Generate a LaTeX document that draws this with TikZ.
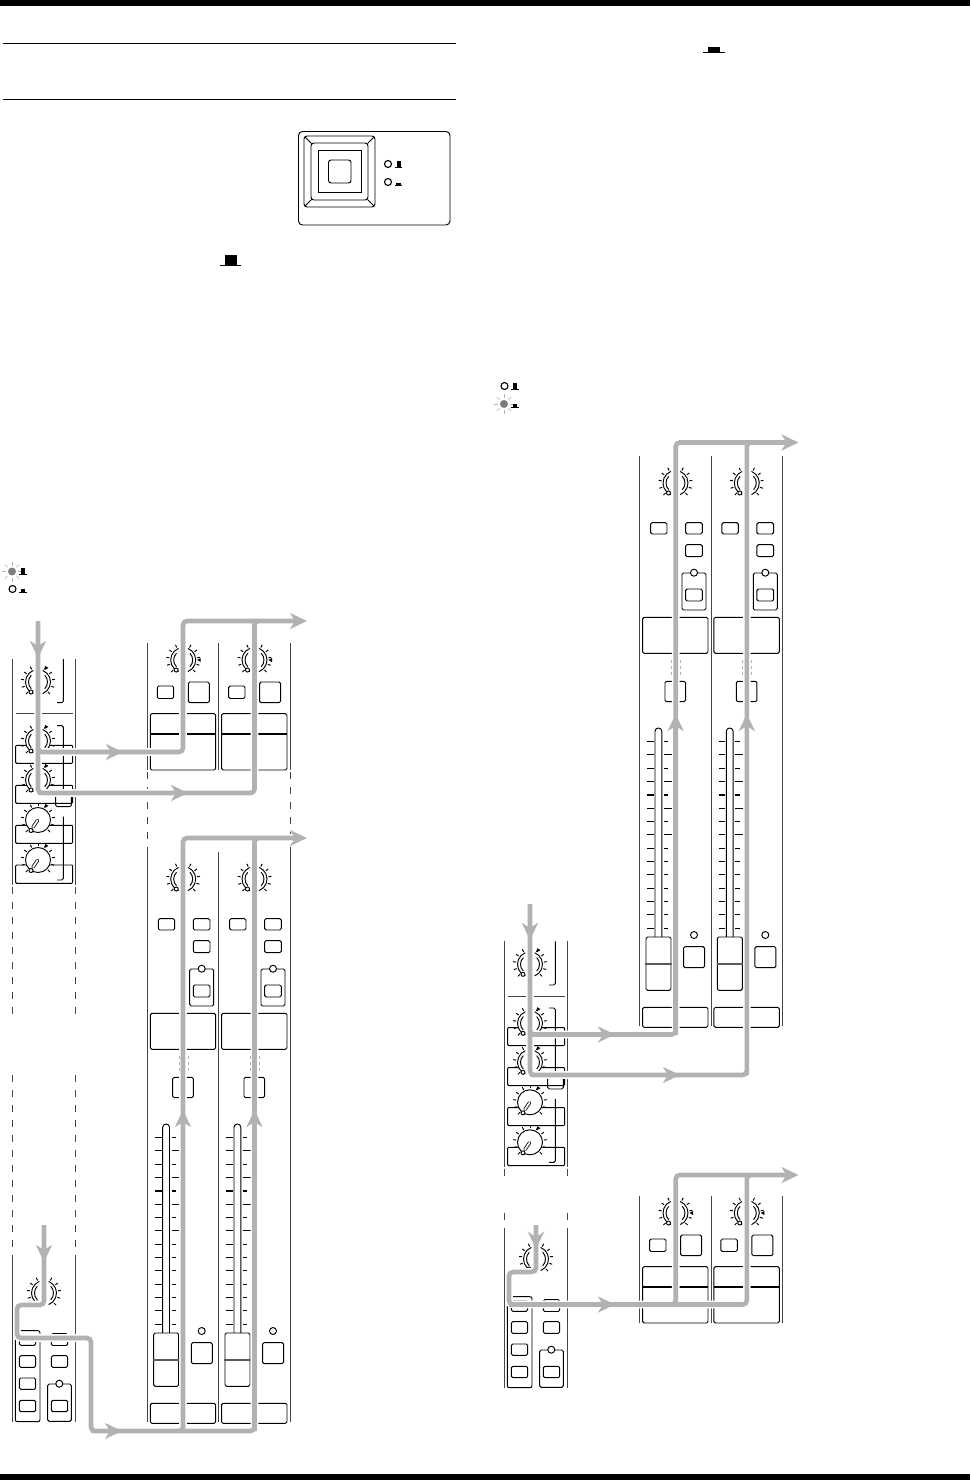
\documentclass[tikz,border=0pt]{standalone}
\usepackage{xcolor}
\usetikzlibrary{arrows.meta}
\definecolor{RouteGray}{RGB}{178,178,178}
\definecolor{RailGray}{RGB}{70,70,70}
\definecolor{LitGray}{RGB}{125,125,125}
\tikzset{
	btn/.style={rounded corners=1.5pt,fill=white},
	rail/.style={RailGray},
	cut/.style={RailGray,dash pattern=on 7pt off 8pt},
	route/.style={draw=RouteGray,line width=4.6pt,rounded corners=4pt,preaction={draw=white,line width=7.6pt}},
	routetip/.style={draw=RouteGray,line width=4.6pt,-{Stealth[length=17pt,width=16pt,inset=5pt]}},
	% 旋钮
	knobticks/.pic={
		\foreach \a in {135,162,...,405}
			\draw (\a:14) -- (\a:17);
	},
	knobcut/.pic={
		\fill[white] (0,0) circle (12.5);
		\pic {knobticks};
		\draw (112:12.5) arc (112:248:12.5);
		\draw (-68:12.5) arc (-68:68:12.5);
		\draw (135:9.5) arc (135:225:9.5);
		\draw (-45:9.5) arc (-45:45:9.5);
		\draw[fill=white] (-7,10) circle (2);
	},
	knobfull/.pic={
		\pic {knobticks};
		\draw[fill=white] (0,0) circle (12.5);
		\draw[line width=3.4pt,line cap=round] (-5,7) -- (-.5,.5);
		\draw[white,line width=1.8pt,line cap=round] (-5,7) -- (-.5,.5);
		\draw[fill=white] (-7,10.5) circle (2);
	},
	knobmark/.pic={
		\fill[rotate=-#1] (14,0) -- (17.5,-2) -- (17.5,2) -- cycle;
	},
	% 指示灯
	ledoff/.pic={\draw[fill=white,line width=1.1pt] (0,0) circle (3.5);},
	ledlit/.pic={
		\foreach \a in {0,45,...,315}
			\draw[LitGray!60,line width=.6pt] (\a:6) -- (\a:10);
		\fill[LitGray] (0,0) circle (4);
	},
	hatup/.pic={
		\fill (-2,-6) rectangle (2,0);
		\draw (-3.7,0) -- (3.7,0);
	},
	hatdown/.pic={
		\fill (-2.2,-3) rectangle (2.2,0);
		\draw (-3.7,0) -- (3.7,0);
	},
	% 推子通道
	faderchan/.pic={
		\draw[rail] (0,0) -- (0,570);
		\pic at (35.7,27) {knobcut};
		\draw[btn] (10.8,66.7) rectangle (27.2,78);
		\draw[btn] (45.8,66.7) rectangle (62.5,78);
		\draw[btn] (45.8,88.7) rectangle (62.5,100.7);
		\draw[btn] (42.2,117) rectangle (66.2,154);
		\draw[btn] (45.8,133) rectangle (62.5,145);
		\draw[fill=white] (54.2,116.7) circle (3.5);
		\draw[btn] (2.8,161.3) rectangle (68.2,197.3);
		\draw[btn] (25.2,225.3) rectangle (45.8,245.7);
		\draw[rounded corners=3.3pt] (15.2,481) -- (15.2,272) -- (22,272) -- (22,481);
		\foreach \k/\rx in {0/28.5,1/32,2/28.5,3/32,4/28.5,5/32,6/28.5,7/32,8/28.5,9/28.5,10/28.5,11/28.5,12/28.5,13/28.5,14/28.5}
			\draw (7.5,{285.3+13.35*\k}) -- (14.2,{285.3+13.35*\k}) (24.2,{285.3+13.35*\k}) -- (\rx,{285.3+13.35*\k});
		\draw[line width=2pt] (7.5,338.7) -- (14.2,338.7) (24.2,338.7) -- (28.5,338.7);
		\draw[btn] (6.2,481) rectangle (31.2,534.3);
		\draw[black!65,line width=2pt] (5.5,508) -- (32,508);
		\draw[fill=white] (54.2,479) circle (3.5);
		\draw[btn] (43.8,490.7) rectangle (64.8,511.7);
		\draw[btn] (2.8,551.3) rectangle (68.2,571.3);
	},
	% 监听通道
	monchan/.pic={
		\draw[rail] (0,0) -- (0,127);
		\pic at (35.7,17) {knobcut};
		\pic at (35.7,17) {knobmark=360};
		\draw[btn] (9.8,43) rectangle (26.2,55.5);
		\draw[btn] (40.8,39) rectangle (61.8,59.7);
		\draw[btn] (2.8,70.7) rectangle (68.2,127);
		\draw[line width=1.5pt] (2.8,91) -- (68.2,91);
	},
	% 输入条上段
	inputstrip/.pic={
		\draw[rail] (0,0) -- (0,226) (63,0) -- (63,226);
		\pic at (25.5,23) {knobcut};
		\pic at (25.5,23) {knobmark=300};
		\draw[rounded corners=1.5pt] (50.8,0) -- (50.8,43.7) -- (44.5,43.7);
		\draw[RailGray] (3.2,54.7) -- (60.2,54.7);
		\draw[rounded corners=1pt] (3.2,86.3) rectangle (60.2,104.3);
		\draw[rounded corners=1pt] (3.2,126.3) rectangle (60.2,144.3);
		\draw[rounded corners=1pt] (3.2,166.3) rectangle (60.2,184.3);
		\draw[rounded corners=1pt] (3.2,206) rectangle (60.2,224.3);
		\pic at (25.5,82) {knobcut};
		\pic at (25.5,82) {knobmark=300};
		\pic at (25.5,121) {knobcut};
		\pic at (25.5,121) {knobmark=300};
		\pic at (25.5,161) {knobfull};
		\pic at (25.5,161) {knobmark=300};
		\pic at (25.5,201) {knobfull};
		\pic at (25.5,201) {knobmark=300};
		\draw[rounded corners=1.5pt] (44.5,66.7) -- (50.8,66.7) -- (50.8,136);
		\draw[rounded corners=1.5pt] (43.2,136) -- (43.2,147.7) -- (58.8,147.7) -- (58.8,136);
		\draw[rounded corners=1.5pt] (50.8,157.7) -- (50.8,221) -- (44.5,221);
	},
	% 输入条下段
	lowerstrip/.pic={
		\draw[rail] (0,0) -- (0,160) (63,0) -- (63,160);
		\pic at (31.5,31) {knobcut};
		\draw[rounded corners=2pt] (2.8,68.7) rectangle (27.5,159.7);
		\draw[btn] (6.8,73) rectangle (23.2,83.3);
		\draw[btn] (6.8,93.7) rectangle (23.2,105.3);
		\draw[btn] (6.8,116) rectangle (23.2,127.3);
		\draw[btn] (6.8,138.3) rectangle (23.2,149.7);
		\draw[btn] (38.8,71.7) rectangle (55.2,83.5);
		\draw[btn] (38.8,93.7) rectangle (55.2,105.3);
		\draw[btn] (35.2,122) rectangle (58.8,159.3);
		\draw[btn] (38.8,138.3) rectangle (55.2,149.7);
		\draw[fill=white] (46.8,121.7) circle (3.5);
	},
	% 推子上方的虚线
	faderdots/.pic={
		\draw[gray!60,dash pattern=on 3pt off 3pt] (-4,0) -- (-4,17) (5,0) -- (5,17);
	}
}
\begin{document}
\begin{tikzpicture}[x=1pt,y=-1pt,line width=.95pt]
	\useasboundingbox (0,0) rectangle (970,1480);
	% 页眉页脚
	\fill (0,0) rectangle (970,6);
	\fill (0,1474) rectangle (970,1480);
	\draw[line width=1pt] (3,43.3) -- (456,43.3);
	\draw[line width=1pt] (3,99.3) -- (456,99.3);
	
	% 面板开关
	\draw[rounded corners=4pt] (298.5,131.5) rectangle (450,225);
	\draw[rounded corners=3pt] (304,136) rectangle (375,207);
	\draw[rounded corners=3pt] (311,143) rectangle (368,200);
	\draw (318.5,150.5) rectangle (361,192.5);
	\draw[rounded corners=2.5pt] (328.5,160) rectangle (351,183);
	\draw (305,137) -- (311.5,143.5) (374,137) -- (367.5,143.5) (305,206) -- (311.5,199.5) (374,206) -- (367.5,199.5);
	\pic at (388,164) {ledoff};
	\pic at (388,182) {ledoff};
	\pic at (398.5,167) {hatup};
	\pic at (398.5,185.7) {hatdown};
	
	% 正文里的按键符号
	\fill (225,254.5) rectangle (237,265.5);
	\draw[line width=1pt] (220,265.8) -- (241,265.8);
	\fill (707.5,46.7) rectangle (720,52.3);
	\draw[line width=1pt] (703.3,52.6) -- (725,52.6);
	
	% 指示灯图例
	\pic at (12,571.5) {ledlit};
	\pic at (12.5,589) {ledoff};
	\pic at (23,574) {hatup};
	\pic at (23,592) {hatdown};
	\pic at (504.5,386) {ledoff};
	\pic at (504,404) {ledlit};
	\pic at (515,389) {hatup};
	\pic at (515,407) {hatdown};
	
	% 左栏
	\pic at (12.5,659) {inputstrip};
	\pic at (12.5,1262) {lowerstrip};
	\foreach \railx in {12.5,75.5} {
		\draw[cut] (\railx,887) -- (\railx,1020);
		\draw[cut] (\railx,1075) -- (\railx,1262);
	}
	\pic at (147.5,643) {monchan};
	\pic at (218.8,643) {monchan};
	\draw[rail] (290,643) -- (290,770);
	\draw[cut] (147.5,772) -- (147.5,852);
	\draw[cut] (290,772) -- (290,852);
	\pic at (147.5,852) {faderchan};
	\pic at (218.8,852) {faderchan};
	\draw[rail] (290,852) -- (290,1422);
	
	% 右栏
	\pic at (639.8,456) {faderchan};
	\pic at (711.1,456) {faderchan};
	\draw[rail] (782.3,456) -- (782.3,1026);
	\pic at (504.5,941.3) {inputstrip};
	\pic at (504.5,1228) {lowerstrip};
	\foreach \railx in {504.5,567.5} {
		\draw[cut] (\railx,1169) -- (\railx,1181);
		\draw[cut] (\railx,1213) -- (\railx,1228);
	}
	\pic at (639.8,1196) {monchan};
	\pic at (711.1,1196) {monchan};
	\draw[rail] (782.3,1196) -- (782.3,1323);
	
	% 信号路径坐标
	\coordinate (inA) at (38,621);
	\coordinate (tipInA) at (38,658);
	\coordinate (busA1) at (38,752);
	\coordinate (busA2) at (38,793);
	\coordinate (headA1) at (123,752);
	\coordinate (headA2) at (188,793);
	\coordinate (upA1) at (183,752);
	\coordinate (upA2) at (254.5,793);
	\coordinate (outA1) at (183,621);
	\coordinate (outA2) at (254.5,621);
	\coordinate (tailA) at (295,621);
	\coordinate (tipA) at (307,621);
	
	\coordinate (inB) at (44,1225);
	\coordinate (tipInB) at (44,1262);
	\coordinate (kneeB1) at (44,1305);
	\coordinate (kneeB2) at (17,1305);
	\coordinate (kneeB3) at (17,1338);
	\coordinate (kneeB4) at (91,1338);
	\coordinate (kneeB5) at (91,1431);
	\coordinate (headB) at (122,1431);
	\coordinate (footB1) at (183,1431);
	\coordinate (footB2) at (254.5,1431);
	\coordinate (headB1) at (183,1110);
	\coordinate (headB2) at (254.5,1110);
	\coordinate (outB1) at (183,838);
	\coordinate (outB2) at (254.5,838);
	\coordinate (tailB) at (295,838);
	\coordinate (tipB) at (307,838);
	
	\coordinate (inC) at (530,904);
	\coordinate (tipInC) at (530,940);
	\coordinate (busC1) at (530,1034.5);
	\coordinate (busC2) at (530,1075);
	\coordinate (headC1) at (615,1034.5);
	\coordinate (headC2) at (680,1075);
	\coordinate (upC1) at (675.7,1034.5);
	\coordinate (upC2) at (746.8,1075);
	\coordinate (headC3) at (675.7,714);
	\coordinate (headC4) at (746.8,714);
	\coordinate (outC1) at (675.7,442.5);
	\coordinate (outC2) at (746.8,442.5);
	\coordinate (tailC) at (787,442.5);
	\coordinate (tipC) at (798.5,442.5);
	
	\coordinate (inD) at (536,1225);
	\coordinate (tipInD) at (536,1249);
	\coordinate (kneeD1) at (536,1272);
	\coordinate (kneeD2) at (509,1272);
	\coordinate (kneeD3) at (509,1304.5);
	\coordinate (headD) at (615,1304.5);
	\coordinate (footD1) at (675.7,1304.5);
	\coordinate (footD2) at (746.8,1304.5);
	\coordinate (outD1) at (675.7,1175);
	\coordinate (outD2) at (746.8,1175);
	\coordinate (tailD) at (787,1175);
	\coordinate (tipD) at (798.5,1175);
	
	% 信号路径
	\draw[route] (inA) -- (busA2) -- (upA2) -- (outA2) -- (tailA)
		(tipInA) -- (busA1) -- (upA1) -- (outA1) -- (tailA);
	\draw[route] (inB) -- (kneeB1) -- (kneeB2) -- (kneeB3) -- (kneeB4) -- (kneeB5) -- (footB2) -- (outB2) -- (tailB)
		(headB) -- (footB1) -- (outB1) -- (tailB);
	\draw[route] (inC) -- (busC2) -- (upC2) -- (outC2) -- (tailC)
		(tipInC) -- (busC1) -- (upC1) -- (outC1) -- (tailC);
	\draw[route] (inD) -- (kneeD1) -- (kneeD2) -- (kneeD3) -- (footD2) -- (outD2) -- (tailD)
		(headD) -- (footD1) -- (outD1) -- (tailD);
	
	% 箭头
	\draw[routetip] (inA) -- (tipInA);
	\draw[routetip] (busA1) -- (headA1);
	\draw[routetip] (busA2) -- (headA2);
	\draw[routetip] (outA2) -- (tipA);
	\draw[routetip] (inB) -- (tipInB);
	\draw[routetip] (kneeB5) -- (headB);
	\draw[routetip] (footB1) -- (headB1);
	\draw[routetip] (footB2) -- (headB2);
	\draw[routetip] (outB2) -- (tipB);
	\draw[routetip] (inC) -- (tipInC);
	\draw[routetip] (busC1) -- (headC1);
	\draw[routetip] (busC2) -- (headC2);
	\draw[routetip] (upC1) -- (headC3);
	\draw[routetip] (upC2) -- (headC4);
	\draw[routetip] (outC2) -- (tipC);
	\draw[routetip] (inD) -- (tipInD);
	\draw[routetip] (kneeD3) -- (headD);
	\draw[routetip] (outD2) -- (tipD);
	
	% 虚线压在路径旁边
	\pic at (183,1056) {faderdots};
	\pic at (254.5,1056) {faderdots};
	\pic at (675.7,660) {faderdots};
	\pic at (746.8,660) {faderdots};
\end{tikzpicture}
\end{document}
